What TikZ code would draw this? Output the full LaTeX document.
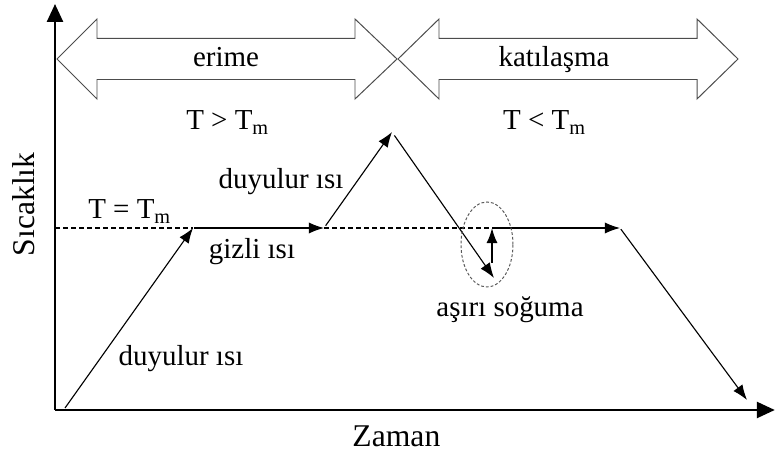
\documentclass[tikz,border=0pt]{standalone}
\usepackage{fontspec}
\setmainfont{Liberation Serif}
\usetikzlibrary{arrows.meta}

\begin{document}
\begin{tikzpicture}[x=1cm,y=1cm,line cap=butt,line join=miter,
  axis/.style={black,line width=1.8pt,-{Triangle[length=4.5mm,width=4mm]}},
  curve/.style={black,line width=.8pt},
  tip/.style={-{Latex[length=3.8mm,width=2.8mm]}},
  tmline/.style={black,line width=.8pt,dash pattern=on 3.5pt off 2.2pt},
  phase/.style={draw=black!70,line width=.7pt,fill=white},
  lbl/.style={font=\fontsize{20.6}{24}\selectfont,anchor=base,inner sep=0pt},
  axlbl/.style={font=\fontsize{22.5}{26}\selectfont,anchor=base,inner sep=0pt}]
  \path[use as bounding box] (0,0) rectangle (19.4,11.35);

  % Axes
  \coordinate (O) at (1.375,1.10);
  \coordinate (ytop) at (1.375,11.25);
  \coordinate (xend) at (19.37,1.10);
  \draw[axis] (O) -- (ytop);
  \draw[axis] (O) -- (xend);
  \node[axlbl,rotate=90] (sicaklik) at (0.875,6.24) {Sıcaklık};
  \node[axlbl] (zaman) at (9.91,0.175) {Zaman};

  % Phase arrows along the top: melting and solidification.
  \foreach \a/\b/\c/\d in {1.425/2.425/8.875/9.925, 9.95/10.975/17.425/18.45}
    \draw[phase] (\a,9.875) -- (\b,10.875) -- (\b,10.3875) -- (\c,10.3875) -- (\c,10.875)
      -- (\d,9.875) -- (\c,8.875) -- (\c,9.3625) -- (\b,9.3625) -- (\b,8.875) -- cycle;
  \node[lbl] (erime) at (5.65,9.675) {erime};
  \node[lbl] (katilasma) at (13.85,9.675) {katılaşma};
  \node[lbl] (tgt) at (5.69,8.10) {T > T\textsubscript{m}};
  \node[lbl] (tlt) at (13.61,8.10) {T < T\textsubscript{m}};

  % Temperature history
  \coordinate (p0) at (1.625,1.15);
  \coordinate (p1) at (4.825,5.65);
  \coordinate (p2) at (8.10,5.65);
  \coordinate (p3) at (9.80,8.05);
  \coordinate (p4) at (12.35,4.40);
  \coordinate (sc) at (12.30,4.775);
  \coordinate (p5) at (12.30,5.65);
  \coordinate (p6) at (15.50,5.65);
  \coordinate (p7) at (18.675,1.35);
  \coordinate (tm0) at (1.375,5.65);

  \draw[tmline] (tm0) -- (p1);
  \draw[tmline] (p2) -- (p5);
  \draw[curve,tip] (p0) -- (p1);
  \draw[curve,tip,shorten <=1pt] (p1) -- (p2);
  \draw[curve,tip,shorten <=2pt] (p2) -- (p3);
  \draw[curve,tip,shorten <=3pt] (p3) -- (p4);
  \draw[curve,tip,line width=1.3pt] (sc) -- (p5);
  \draw[curve,tip] (p5) -- (p6);
  \draw[curve,tip,shorten <=1pt] (p6) -- (p7);

  % Undercooling region
  \draw[black!65,line width=.7pt,dash pattern=on 2pt off 1.4pt] (12.175,5.2375) ellipse (.65 and 1.0625);

  \node[lbl] (teq) at (3.24,5.875) {T = T\textsubscript{m}};
  \node[lbl] (duy1) at (4.525,2.20) {duyulur ısı};
  \node[lbl] (gizli) at (6.30,4.875) {gizli ısı};
  \node[lbl] (duy2) at (7.025,6.625) {duyulur ısı};
  \node[lbl] (asiri) at (12.75,3.425) {aşırı soğuma};
\end{tikzpicture}
\end{document}
